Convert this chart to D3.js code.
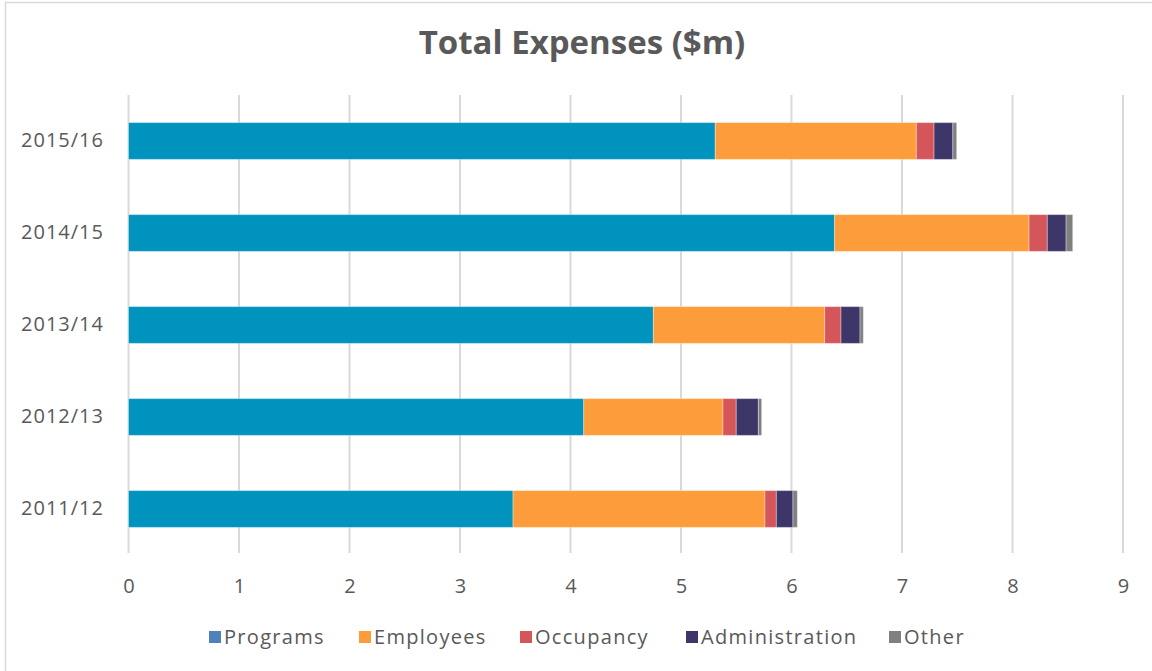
<!DOCTYPE html>
<html><head><meta charset="utf-8">
<script src="https://cdn.jsdelivr.net/npm/d3@7"></script>
<style>body{margin:0;background:#fff;}svg{display:block;}</style>
</head><body>
<svg id="c" width="1152" height="671"></svg>
<script>
const categories = ["2015/16","2014/15","2013/14","2012/13","2011/12"];
const seriesNames = ["Programs","Employees","Occupancy","Administration","Other"];
const programs = [5.31, 6.39, 4.75, 4.12, 3.48];
const employees = [1.82, 1.76, 1.55, 1.26, 2.28];
const occupancy = [0.16, 0.165, 0.148, 0.12, 0.103];
const administration = [0.17, 0.17, 0.172, 0.20, 0.15];
const other = [0.035, 0.06, 0.03, 0.03, 0.04];
const xTicks = [0,1,2,3,4,5,6,7,8,9];

const barColors = ["#0093BD","#FD9C3A","#D4555A","#3D3668","#808080"];
const legendColors = ["#4F81BD","#FD9C3A","#D4555A","#3D3668","#808080"];

const svg = d3.select("#c");
const font = "'Open Sans', sans-serif";
const grey = "#595959";

// frame
svg.append("line").attr("x1",5).attr("x2",1152).attr("y1",2.5).attr("y2",2.5).attr("stroke","#d9d9d9").attr("stroke-width",1.5);
svg.append("line").attr("x1",5.5).attr("x2",5.5).attr("y1",2).attr("y2",671).attr("stroke","#d9d9d9").attr("stroke-width",1.5);

const x = d3.scaleLinear().domain([0,9]).range([128.5,1123]);
const y = d3.scaleBand().domain(categories).range([95,555]).paddingInner(0.6).paddingOuter(0.3);

// gridlines
svg.append("g").selectAll("line").data(xTicks).join("line")
  .attr("x1",d=>x(d)).attr("x2",d=>x(d)).attr("y1",95).attr("y2",553)
  .attr("stroke","#d9d9d9").attr("stroke-width",2);

// stacked data
const table = categories.map((c,i)=>({cat:c, Programs:programs[i], Employees:employees[i], Occupancy:occupancy[i], Administration:administration[i], Other:other[i]}));
const stack = d3.stack().keys(seriesNames)(table);

svg.append("g").selectAll("g").data(stack).join("g")
  .attr("fill",(d,i)=>barColors[i])
  .selectAll("rect").data(d=>d).join("rect")
  .attr("x",d=>x(d[0])).attr("width",d=>x(d[1])-x(d[0]))
  .attr("y",d=>y(d.data.cat)).attr("height",y.bandwidth())
  .attr("stroke","rgba(255,255,255,0.35)").attr("stroke-width",1);

// x axis labels
const xAxis = d3.axisBottom(x).tickValues(xTicks).tickSize(0).tickPadding(0).tickFormat(d3.format("d"));
const gx = svg.append("g").attr("transform","translate(0,578)").call(xAxis);
gx.select(".domain").remove();
gx.selectAll("text").attr("font-family",font).attr("font-size",20).attr("fill",grey).attr("dy","0.75em");

// y axis labels
const yAxis = d3.axisLeft(y).tickSize(0).tickPadding(0);
const gy = svg.append("g").attr("transform","translate(104,0)").call(yAxis);
gy.select(".domain").remove();
gy.selectAll("text").attr("font-family",font).attr("font-size",20).attr("letter-spacing","1px").attr("fill",grey);

// title
svg.append("text").attr("x",582).attr("y",54).attr("text-anchor","middle")
  .attr("font-family",font).attr("font-weight","bold").attr("font-size",33).attr("fill",grey)
  .text("Total Expenses ($m)");

// legend
const legendX = [209,359,520,686,889];
const lg = svg.append("g").selectAll("g").data(seriesNames).join("g")
  .attr("transform",(d,i)=>`translate(${legendX[i]},637)`);
lg.append("rect").attr("x",0).attr("y",-6).attr("width",12).attr("height",12).attr("fill",(d,i)=>legendColors[i]);
lg.append("text").attr("x",15).attr("y",0).attr("dy","0.35em")
  .attr("font-family",font).attr("font-size",20).attr("letter-spacing","1.3px").attr("fill",grey).text(d=>d);
</script>
</body></html>
